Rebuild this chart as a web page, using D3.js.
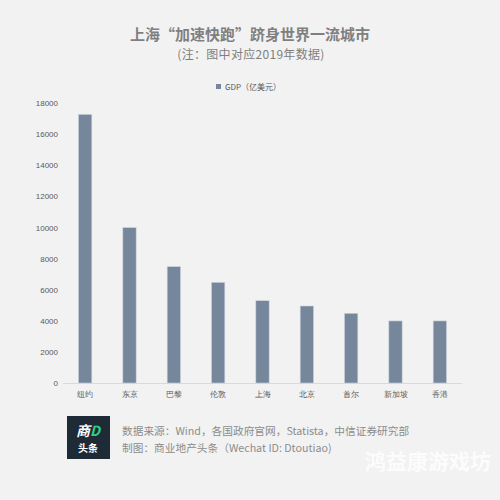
<!DOCTYPE html>
<html><head><meta charset="utf-8">
<script src="https://cdn.jsdelivr.net/npm/d3@7"></script>
<style>
html,body{margin:0;padding:0;background:#f2f2f2;}
svg{display:block;font-family:"Noto Sans CJK SC","Noto Sans",sans-serif;}
</style></head>
<body>
<script>
const categories = ["纽约","东京","巴黎","伦敦","上海","北京","首尔","新加坡","香港"];
const gdpValues = [17270, 9990, 7480, 6470, 5290, 4950, 4480, 3990, 3990];
const yTicks = [0,2000,4000,6000,8000,10000,12000,14000,16000,18000];
const titleText = "上海“加速快跑”跻身世界一流城市";
const subtitleText = "(注：图中对应2019年数据)";
const legendText = "GDP（亿美元）";
const sourceLines = ["数据来源：Wind，各国政府官网，Statista，中信证券研究部", "制图：商业地产头条（Wechat ID: Dtoutiao)"];
const watermark = "鸿益康游戏坊";

const W=500,H=500;
const svg=d3.select("body").append("svg").attr("width",W).attr("height",H);
svg.append("rect").attr("width",W).attr("height",H).attr("fill","#f2f2f2");

const x=d3.scaleBand().domain(categories).range([63,462]).paddingInner(0.7).paddingOuter(0.35);
const y=d3.scaleLinear().domain([0,18000]).range([383,103]);

// title
svg.append("text").attr("x",250).attr("y",40).attr("text-anchor","middle")
  .attr("font-size",15).attr("font-weight","bold").attr("fill","#7f7f7f").text(titleText);
svg.append("text").attr("x",251).attr("y",58.5).attr("text-anchor","middle")
  .attr("font-size",12).attr("letter-spacing",0.3).attr("fill","#7f7f7f").text(subtitleText);

// legend
svg.append("rect").attr("x",216).attr("y",84).attr("width",5).attr("height",5).attr("fill","#76879b");
svg.append("text").attr("x",225).attr("y",89.5).attr("font-size",8).attr("fill","#595959").text(legendText);

// y axis
const yAxis=d3.axisLeft(y).tickValues(yTicks).tickSize(0).tickPadding(0).tickFormat(d3.format("d"));
const ya=svg.append("g").attr("transform","translate(58,0)").call(yAxis);
ya.select(".domain").remove();
ya.selectAll("text").attr("font-size",8).attr("fill","#595959").attr("font-family","Liberation Sans, Arial, sans-serif");

// x axis
const xAxis=d3.axisBottom(x).tickSize(0).tickPadding(8);
const xa=svg.append("g").attr("transform","translate(0,383)").call(xAxis);
xa.select(".domain").attr("stroke","#d9d9d9").attr("d","M63,0.5H462");
xa.selectAll("text").attr("font-size",8).attr("fill","#595959");

// bars
svg.append("g").selectAll("rect").data(gdpValues).join("rect")
  .attr("x",(d,i)=>x(categories[i]))
  .attr("width",x.bandwidth())
  .attr("y",d=>y(d))
  .attr("height",d=>y(0)-y(d))
  .attr("fill","#76879b")
  .attr("stroke","#c9d2dc").attr("stroke-width",0.6);

// footer logo
svg.append("rect").attr("x",67).attr("y",416).attr("width",43).attr("height",43).attr("fill","#1f2a37");
const lg=svg.append("text").attr("x",88).attr("y",436).attr("text-anchor","middle")
  .attr("font-size",14).attr("font-weight","bold").attr("font-style","italic");
lg.append("tspan").attr("fill","#ffffff").text("商");
lg.append("tspan").attr("fill","#2fd08a").text("D");
svg.append("text").attr("x",88).attr("y",452).attr("text-anchor","middle")
  .attr("font-size",10).attr("font-weight","bold").attr("fill","#ffffff").text("头条");

svg.append("text").attr("x",122).attr("y",434.5).attr("font-size",10.7).attr("fill","#8c8c8c").text(sourceLines[0]);
svg.append("text").attr("x",122).attr("y",452).attr("font-size",10.7).attr("fill","#8c8c8c").text(sourceLines[1]);

svg.append("text").attr("x",491).attr("y",469).attr("text-anchor","end")
  .attr("font-size",21).attr("font-weight","bold").attr("fill","#ffffff").attr("opacity",0.8).text(watermark);
</script>
</body></html>
